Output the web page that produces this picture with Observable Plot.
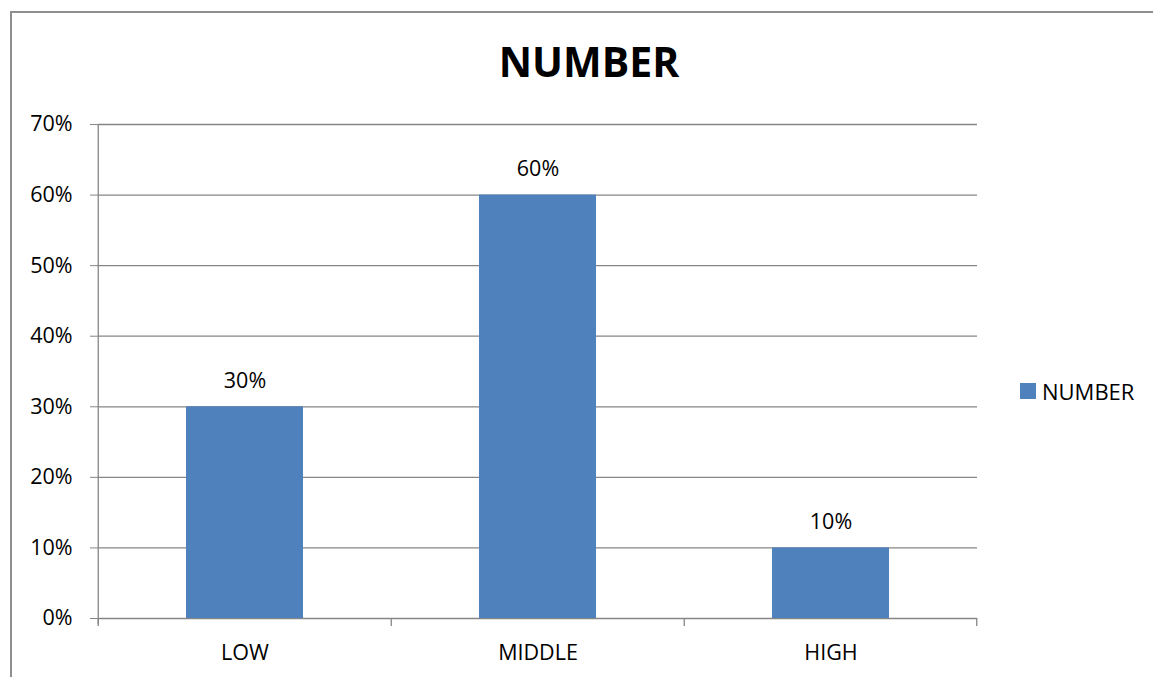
<!DOCTYPE html>
<html>
<head>
<meta charset="utf-8">
<script src="https://cdn.jsdelivr.net/npm/d3@7"></script>
<script src="https://cdn.jsdelivr.net/npm/@observablehq/plot@0.6"></script>
<style>
  html, body { margin: 0; padding: 0; background: #fff; }
  #wrap { position: relative; width: 1153px; height: 677px; overflow: hidden; font-family: "Open Sans", sans-serif; }
  #border { position: absolute; left: 10px; top: 11px; width: 1200px; height: 700px; border-left: 2px solid #8f8f8f; border-top: 2px solid #8f8f8f; }
  #title { position: absolute; left: 389px; width: 400px; top: 30px; text-align: center; font-weight: bold; font-size: 41px; line-height: 62px; color: #000; }
  #legend { position: absolute; left: 1020px; top: 376px; display: flex; align-items: center; font-size: 22px; color: #000; }
  #legend .sw { width: 16px; height: 16px; margin-right: 6px; }
  #chart { position: absolute; left: 0; top: 0; }
</style>
</head>
<body>
<div id="wrap">
  <div id="border"></div>
  <div id="chart"></div>
  <div id="title"></div>
  <div id="legend"></div>
</div>
<script>
const categories = ["LOW", "MIDDLE", "HIGH"];
const values = [0.30, 0.60, 0.10];
const yTicks = [0, 0.1, 0.2, 0.3, 0.4, 0.5, 0.6, 0.7];
const seriesName = "NUMBER";
const titleText = "NUMBER";

const barColor = "#4F81BD";
const gridColor = "#868686";

const data = categories.map((c, i) => ({cat: c, value: values[i]}));
const pct = d => Math.round(d * 100) + "%";

const plot = Plot.plot({
  width: 1153,
  height: 677,
  marginLeft: 98,
  marginRight: 176,
  marginTop: 124,
  marginBottom: 59,
  style: {fontFamily: "Open Sans", fontSize: "21.5px", color: "#000", background: "transparent"},
  x: {domain: categories, paddingInner: 0.6, paddingOuter: 0.3, label: null},
  y: {domain: [0, 0.7], label: null},
  marks: [
    Plot.gridY(yTicks, {stroke: gridColor, strokeOpacity: 1, strokeWidth: 1.3}),
    Plot.axisY({ticks: yTicks, tickFormat: pct, tickSize: 8, tickPadding: 18, stroke: gridColor, fill: "#000", fontSize: 21.5, label: null}),
    Plot.axisX({tickSize: 0, tickPadding: 26, fill: "#000", fontSize: 21.5, label: null}),
    Plot.barY(data, {x: "cat", y: "value", fill: barColor}),
    Plot.text(data, {x: "cat", y: "value", text: d => pct(d.value), dy: -26, fontSize: 21.5, fill: "#000"})
  ]
});

document.getElementById("chart").appendChild(plot);

// y-axis line and category-boundary ticks, positioned via the plot's scales
const sx = plot.scale("x");
const sy = plot.scale("y");
const step = sx.bandwidth / (1 - sx.paddingInner);
const y0 = sy.apply(0);
const yTop = sy.apply(0.7);
const bounds = categories.map(c => sx.apply(c) - step * sx.paddingInner / 2);
bounds.push(sx.apply(categories[categories.length - 1]) + sx.bandwidth + step * sx.paddingInner / 2);
const svg = d3.select(plot);
const g = svg.append("g").attr("stroke", gridColor).attr("stroke-width", 1.3);
g.append("line").attr("x1", bounds[0]).attr("x2", bounds[0]).attr("y1", yTop).attr("y2", y0 + 6);
bounds.forEach(b => g.append("line").attr("x1", b).attr("x2", b).attr("y1", y0).attr("y2", y0 + 8));

document.getElementById("title").textContent = titleText;
const lg = document.getElementById("legend");
const sw = document.createElement("div");
sw.className = "sw";
sw.style.background = barColor;
lg.appendChild(sw);
const lt = document.createElement("span");
lt.textContent = seriesName;
lg.appendChild(lt);
</script>
</body>
</html>
